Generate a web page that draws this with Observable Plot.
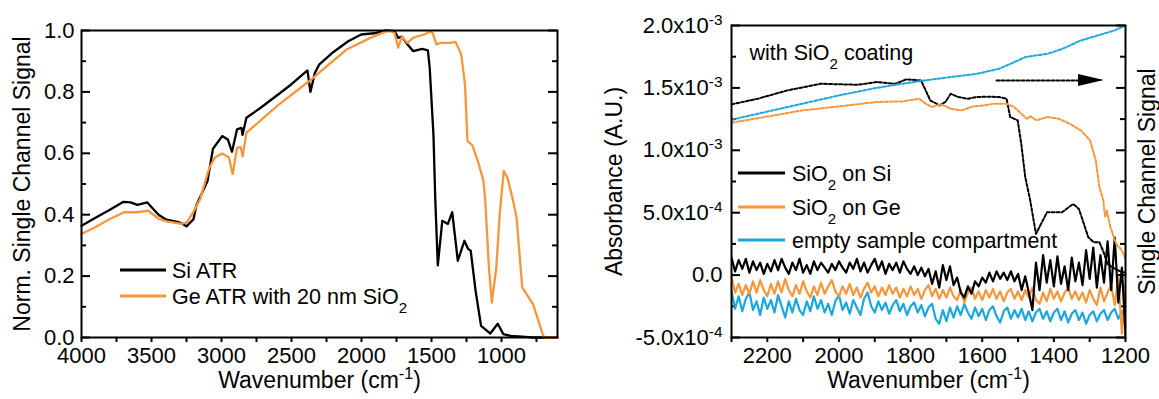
<!DOCTYPE html>
<html><head><meta charset="utf-8">
<script src="https://cdn.jsdelivr.net/npm/d3@7"></script>
<script src="https://cdn.jsdelivr.net/npm/@observablehq/plot@0.6"></script>
<style>
html,body{margin:0;padding:0;background:#fff;}
#wrap{display:flex;width:1159px;height:399px;overflow:hidden;}
#wrap svg{display:block;}
</style></head><body><div id="wrap"></div>
<script>
// ---------- LEFT PANEL DATA (normalized single channel signal) ----------
const siWn = [4000,3900,3800,3700,3650,3600,3530,3450,3400,3300,3250,3200,3180,3100,3061,2995,2955,2925,2889,2857,2850,2822,2730,2600,2500,2386,2365,2333,2301,2200,2095,2002,1910,1830,1764,1738,1711,1672,1632,1566,1526,1513,1486,1473,1455,1423,1383,1352,1312,1265,1238,1220,1185,1146,1080,1027,987,934,828,775,600];
const siVal = [0.364,0.39,0.415,0.442,0.44,0.432,0.44,0.40,0.385,0.375,0.362,0.385,0.43,0.51,0.615,0.656,0.645,0.605,0.678,0.683,0.66,0.716,0.745,0.79,0.825,0.87,0.80,0.862,0.89,0.93,0.965,0.987,0.991,1.0,0.998,0.976,0.98,0.955,0.933,0.94,0.935,0.88,0.66,0.45,0.235,0.38,0.37,0.408,0.25,0.315,0.288,0.283,0.152,0.038,0.013,0.045,0.011,0.005,0.002,0,0];
const geWn = [4000,3900,3800,3696,3600,3524,3445,3392,3286,3247,3200,3153,3087,3047,2995,2947,2920,2889,2862,2849,2822,2700,2600,2465,2360,2201,2100,1936,1830,1790,1764,1738,1711,1672,1632,1592,1552,1513,1492,1465,1433,1367,1328,1288,1261,1243,1209,1169,1129,1116,1090,1069,1037,1013,984,957,918,892,852,775,709,696,600];
const geVal = [0.337,0.36,0.385,0.408,0.408,0.413,0.386,0.378,0.37,0.375,0.41,0.45,0.553,0.586,0.599,0.586,0.532,0.618,0.62,0.59,0.667,0.715,0.755,0.803,0.84,0.902,0.94,0.976,0.996,0.998,0.992,0.944,0.98,0.96,0.976,0.982,0.987,0.996,0.992,0.955,0.96,0.96,0.963,0.923,0.826,0.64,0.627,0.575,0.51,0.446,0.228,0.114,0.228,0.40,0.543,0.52,0.446,0.39,0.163,0.109,0.016,0,0];
const leftSeries = ["Si ATR", "Ge ATR with 20 nm SiO_{2}"];
const leftXTicks = [4000,3750,3500,3250,3000,2750,2500,2250,2000,1750,1500,1250,1000,750];
const leftYMajor = [0,0.2,0.4,0.6,0.8,1.0];
const leftYMinor = [0.1,0.3,0.5,0.7,0.9];

// ---------- RIGHT PANEL DATA (absorbance, units of 1e-3) ----------
const absWn = [2300,2290,2280,2270,2260,2250,2240,2230,2220,2210,2200,2190,2180,2170,2160,2150,2140,2130,2120,2110,2100,2090,2080,2070,2060,2050,2040,2030,2020,2010,2000,1990,1980,1970,1960,1950,1940,1930,1920,1910,1900,1890,1880,1870,1860,1850,1840,1830,1820,1810,1800,1790,1780,1770,1760,1750,1740,1730,1720,1710,1700,1690,1680,1670,1660,1650,1640,1630,1620,1610,1600,1590,1580,1570,1560,1550,1540,1530,1520,1510,1500,1490,1480,1470,1460,1450,1440,1430,1420,1410,1400,1390,1380,1370,1360,1350,1340,1330,1320,1310,1300,1290,1280,1270,1260,1250,1240,1230,1220,1210,1200];
const absSiOnSi = [0.14,0.03,0.12,0.05,0.13,0.02,0.11,0.04,0.10,0.01,0.09,0.03,0.12,0.04,0.13,0.06,0.01,0.10,0.04,0.13,0.02,0.08,0.01,0.11,0.04,0.10,0.06,0.02,0.09,0.04,0.11,0.06,0.02,0.10,0.05,0.13,0.03,0.10,0.02,0.08,0.13,0.04,0.11,0.01,0.09,0.04,0.10,0.02,0.11,0.05,0.01,0.07,0.00,0.06,-0.01,0.05,-0.07,0.03,-0.10,0.08,-0.04,0.07,-0.08,-0.02,-0.14,-0.18,-0.09,-0.15,-0.05,-0.09,-0.02,-0.06,0.02,-0.05,0.03,-0.03,0.02,-0.04,0.03,-0.05,0.01,-0.12,-0.01,-0.14,-0.28,0.10,-0.12,0.16,-0.06,0.12,-0.09,0.15,-0.07,0.07,-0.12,0.14,-0.05,0.10,-0.08,0.20,-0.03,0.22,-0.10,0.16,-0.06,0.27,-0.12,0.30,-0.22,0.06,-0.48];
const absSiOnGe = [-0.02,-0.14,-0.07,-0.16,-0.08,-0.15,-0.05,-0.14,-0.04,-0.12,-0.17,-0.07,-0.15,-0.05,-0.14,-0.03,-0.12,-0.17,-0.08,-0.15,-0.05,-0.13,-0.18,-0.09,-0.16,-0.06,-0.15,-0.09,-0.04,-0.13,-0.17,-0.09,-0.15,-0.07,-0.16,-0.10,-0.18,-0.11,-0.06,-0.14,-0.09,-0.17,-0.10,-0.16,-0.08,-0.15,-0.10,-0.18,-0.11,-0.17,-0.09,-0.16,-0.11,-0.19,-0.12,-0.08,-0.17,-0.11,-0.19,-0.12,-0.18,-0.10,-0.17,-0.20,-0.12,-0.22,-0.14,-0.10,-0.19,-0.13,-0.20,-0.12,-0.18,-0.11,-0.19,-0.13,-0.21,-0.14,-0.11,-0.19,-0.13,-0.20,-0.12,-0.18,-0.10,-0.20,-0.23,-0.14,-0.21,-0.11,-0.19,-0.13,-0.21,-0.14,-0.10,-0.19,-0.13,-0.20,-0.14,-0.22,-0.12,-0.19,-0.24,-0.10,-0.21,-0.14,-0.08,-0.24,-0.02,-0.47,-0.08];
const absEmpty = [-0.13,-0.27,-0.17,-0.29,-0.19,-0.14,-0.28,-0.21,-0.32,-0.18,-0.27,-0.20,-0.30,-0.16,-0.25,-0.34,-0.21,-0.30,-0.19,-0.28,-0.32,-0.21,-0.29,-0.17,-0.27,-0.20,-0.30,-0.23,-0.32,-0.21,-0.16,-0.28,-0.22,-0.31,-0.20,-0.26,-0.32,-0.19,-0.14,-0.25,-0.30,-0.21,-0.28,-0.22,-0.31,-0.24,-0.20,-0.29,-0.23,-0.32,-0.25,-0.22,-0.30,-0.24,-0.33,-0.26,-0.23,-0.35,-0.39,-0.28,-0.37,-0.26,-0.34,-0.25,-0.32,-0.23,-0.30,-0.35,-0.26,-0.33,-0.27,-0.36,-0.28,-0.25,-0.33,-0.38,-0.29,-0.26,-0.35,-0.28,-0.34,-0.27,-0.36,-0.29,-0.37,-0.30,-0.27,-0.35,-0.29,-0.37,-0.30,-0.27,-0.36,-0.29,-0.38,-0.31,-0.28,-0.36,-0.30,-0.39,-0.32,-0.29,-0.37,-0.31,-0.28,-0.36,-0.30,-0.27,-0.35,-0.29,-0.33];

// single channel signals (right axis, no labels) read in left-axis-equivalent units
const scSiWn = [2300,2227,2144,2051,1947,1895,1843,1812,1771,1760,1745,1719,1703,1688,1667,1641,1615,1584,1553,1532,1522,1501,1491,1480,1466,1450,1419,1377,1346,1330,1304,1289,1273,1262,1250,1235,1215,1200];
const scSiVal = [1.368,1.413,1.48,1.533,1.525,1.547,1.533,1.568,1.56,1.493,1.40,1.36,1.387,1.453,1.427,1.413,1.427,1.43,1.427,1.413,1.267,1.24,1.053,0.787,0.598,0.33,0.504,0.504,0.57,0.53,0.304,0.264,0.264,0.19,0.09,0.06,0.03,0.02];
const scGeWn = [2300,2207,2103,1999,1895,1823,1776,1755,1740,1714,1688,1657,1625,1594,1568,1532,1511,1491,1475,1465,1449,1418,1387,1356,1325,1299,1283,1273,1262,1257,1252,1242,1226,1210,1200];
const scGeVal = [1.221,1.267,1.32,1.352,1.387,1.392,1.413,1.368,1.347,1.368,1.333,1.32,1.352,1.36,1.373,1.373,1.347,1.293,1.253,1.272,1.24,1.267,1.253,1.213,1.16,1.08,0.92,0.707,0.6,0.464,0.517,0.384,0.25,0.197,0.13];
const scEmptyWn = [2300,2200,2103,2000,1895,1830,1760,1688,1615,1553,1500,1480,1418,1376,1325,1262,1231,1200];
const scEmptyVal = [1.245,1.31,1.373,1.44,1.5,1.53,1.56,1.587,1.613,1.653,1.72,1.747,1.773,1.813,1.88,1.933,1.96,2.0];

const rightSeries = ["SiO_{2} on Si", "SiO_{2} on Ge", "empty sample compartment"];
const rightXTicks = [2300,2200,2100,2000,1900,1800,1700,1600,1500,1400,1300,1200];
const rightYMajor = [-0.5,0,0.5,1.0,1.5,2.0];
const rightYMinor = [-0.25,0.25,0.75,1.25,1.75];
// annotation arrow (points to the right-hand axis)
const arrowShaft = [{wn:1560, v:1.559},{wn:1331, v:1.559}];
const arrowHead = [{wn:1331, lo:1.511, hi:1.607},{wn:1259, lo:1.559, hi:1.559}];

// ---------- STYLE ----------
const FONT = '"Liberation Sans", Arial, Helvetica, sans-serif';
const BLACK = "#000000", ORANGE = "#f7963a", BLUE = "#1aa7e0";
const TICKFS = "22px", TITLEFS = 23, LEGFS = 21.5;
const rows = (xs, ys) => xs.map((x, i) => ({wn: x, v: ys[i]}));

function inward(values, len, plotW, side, sw) {
  const o = {y: d => d, stroke: "#000", strokeWidth: sw};
  o[side === "left" ? "insetRight" : "insetLeft"] = plotW - len;
  return Plot.tickY(values, o);
}
function sciLabel(v) {
  if (v === 0) return "0.0";
  const [m, e] = (v * 1e-3).toExponential(1).split("e");
  return m + "x10^{" + (+e) + "}";
}

// ---------- LEFT PLOT ----------
const LW = 580, LML = 81, LMR = 23;
const LPW = LW - LML - LMR;
const left = Plot.plot({
  width: LW, height: 399, marginLeft: LML, marginRight: LMR, marginTop: 30, marginBottom: 62,
  style: {fontFamily: FONT, fontSize: TICKFS, color: "#000", background: "white", overflow: "visible"},
  x: {domain: [4000, 600]},
  y: {domain: [0, 1]},
  marks: [
    Plot.axisX({ticks: leftXTicks, tickSize: 5, tickPadding: 5, strokeWidth: 2,
      tickFormat: d => d % 500 === 0 ? String(d) : "", label: null}),
    Plot.axisY({ticks: leftYMajor, tickSize: 0, tickPadding: 7, tickFormat: d => d.toFixed(1), label: null}),
    inward(leftYMajor, 9, LPW, "left", 2), inward(leftYMinor, 5, LPW, "left", 2),
    inward(leftYMajor, 9, LPW, "right", 2), inward(leftYMinor, 5, LPW, "right", 2),
    Plot.line(rows(siWn, siVal), {x: "wn", y: "v", stroke: BLACK, strokeWidth: 2.3}),
    Plot.line(rows(geWn, geVal), {x: "wn", y: "v", stroke: ORANGE, strokeWidth: 2.3}),
    Plot.frame({stroke: "#000", strokeWidth: 2}),
    Plot.text(["Wavenumber (cm^{-1})"], {text: d => d, frameAnchor: "bottom", textAnchor: "middle", dy: 50, fontSize: TITLEFS}),
    Plot.text(["Norm. Single Channel Signal"], {text: d => d, frameAnchor: "left", textAnchor: "middle", rotate: -90, dx: -59, fontSize: TITLEFS})
  ]
});

// ---------- RIGHT PLOT ----------
const RW = 579, RML = 151, RMR = 34;
const RPW = RW - RML - RMR;
const dash = "3,2";
const right = Plot.plot({
  width: RW, height: 399, marginLeft: RML, marginRight: RMR, marginTop: 25, marginBottom: 62,
  style: {fontFamily: FONT, fontSize: TICKFS, color: "#000", background: "white", overflow: "visible"},
  x: {domain: [2300, 1200]},
  y: {domain: [-0.5, 2.0]},
  marks: [
    Plot.axisX({ticks: rightXTicks, tickSize: 5, tickPadding: 5, strokeWidth: 2,
      tickFormat: d => d % 200 === 0 ? String(d) : "", label: null}),
    Plot.axisY({ticks: rightYMajor, tickSize: 0, tickPadding: 9, tickFormat: sciLabel, label: null}),
    inward(rightYMajor, 9, RPW, "left", 2), inward(rightYMinor, 5, RPW, "left", 2),
    inward(rightYMajor, 9, RPW, "right", 2), inward(rightYMinor, 5, RPW, "right", 2),
    Plot.line(rows(absWn, absEmpty), {x: "wn", y: "v", stroke: BLUE, strokeWidth: 2.2, clip: true}),
    Plot.line(rows(absWn, absSiOnGe), {x: "wn", y: "v", stroke: ORANGE, strokeWidth: 2.2, clip: true}),
    Plot.line(rows(absWn, absSiOnSi), {x: "wn", y: "v", stroke: BLACK, strokeWidth: 2.2, clip: true}),
    Plot.line(rows(scSiWn, scSiVal), {x: "wn", y: "v", stroke: BLACK, strokeWidth: 2, strokeDasharray: dash, clip: true}),
    Plot.line(rows(scGeWn, scGeVal), {x: "wn", y: "v", stroke: ORANGE, strokeWidth: 2, strokeDasharray: dash, clip: true}),
    Plot.line(rows(scEmptyWn, scEmptyVal), {x: "wn", y: "v", stroke: BLUE, strokeWidth: 2, strokeDasharray: dash, clip: true}),
    Plot.line(arrowShaft, {x: "wn", y: "v", stroke: BLACK, strokeWidth: 2, strokeDasharray: dash}),
    Plot.area(arrowHead, {x1: "wn", y1: "lo", y2: "hi", fill: BLACK}),
    Plot.frame({stroke: "#000", strokeWidth: 2}),
    Plot.text(["with SiO_{2} coating"], {text: d => d, frameAnchor: "top-left", textAnchor: "start", dx: 18, dy: 19, fontSize: LEGFS}),
    Plot.text(["Wavenumber (cm^{-1})"], {text: d => d, frameAnchor: "bottom", textAnchor: "middle", dy: 50, fontSize: TITLEFS}),
    Plot.text(["Absorbance (A.U.)"], {text: d => d, frameAnchor: "left", textAnchor: "middle", rotate: -90, dx: -117, fontSize: TITLEFS}),
    Plot.text(["Single Channel Signal"], {text: d => d, frameAnchor: "right", textAnchor: "middle", rotate: -90, dx: 22, fontSize: TITLEFS})
  ]
});

// ---------- LEGENDS ----------
function legend(svg, names, colors, x0, x1, tx, ys) {
  const g = d3.select(svg).append("g").attr("font-family", FONT).attr("font-size", LEGFS).attr("text-anchor", "start");
  names.forEach((n, i) => {
    g.append("line").attr("x1", x0).attr("x2", x1).attr("y1", ys[i]).attr("y2", ys[i])
      .attr("stroke", colors[i]).attr("stroke-width", 3);
    g.append("text").attr("x", tx).attr("y", ys[i]).attr("dy", "0.35em").attr("fill", "#000").text(n);
  });
}
legend(left, leftSeries, [BLACK, ORANGE], 120, 166, 172, [270, 296]);
legend(right, rightSeries, [BLACK, ORANGE, BLUE], 158, 205, 212, [173, 207, 240]);

// ---------- sub/superscripts ----------
function rich(el) {
  const s = el.textContent;
  if (!/[_^]\{/.test(s)) return;
  el.textContent = "";
  const re = /([_^])\{([^}]*)\}/g; let last = 0, m;
  while ((m = re.exec(s))) {
    if (m.index > last) el.appendChild(document.createTextNode(s.slice(last, m.index)));
    const ts = document.createElementNS("http://www.w3.org/2000/svg", "tspan");
    ts.textContent = m[2];
    ts.setAttribute("font-size", "70%");
    ts.setAttribute("baseline-shift", m[1] === "_" ? "sub" : "super");
    el.appendChild(ts);
    last = re.lastIndex;
  }
  if (last < s.length) el.appendChild(document.createTextNode(s.slice(last)));
}
[left, right].forEach(svg => {
  svg.querySelectorAll("text").forEach(t => {
    const tspans = t.querySelectorAll("tspan");
    if (tspans.length) tspans.forEach(rich); else rich(t);
  });
});

document.getElementById("wrap").append(left, right);
</script>
</body></html>
